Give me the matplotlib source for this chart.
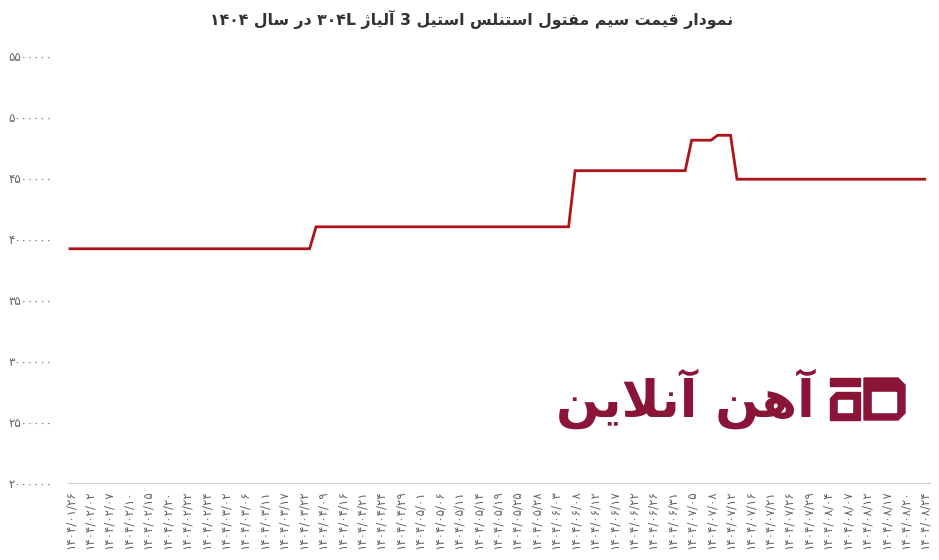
import matplotlib
matplotlib.use("Agg")
import matplotlib.pyplot as plt
from matplotlib.patches import Polygon
import numpy as np

# ---------------- data ----------------
date_labels = [
    "۱۴۰۴/۰۱/۲۶", "۱۴۰۴/۰۲/۰۲", "۱۴۰۴/۰۲/۰۷", "۱۴۰۴/۰۲/۱۰", "۱۴۰۴/۰۲/۱۵",
    "۱۴۰۴/۰۲/۲۰", "۱۴۰۴/۰۲/۲۲", "۱۴۰۴/۰۲/۲۴", "۱۴۰۴/۰۳/۰۲", "۱۴۰۴/۰۳/۰۶",
    "۱۴۰۴/۰۳/۱۱", "۱۴۰۴/۰۳/۱۷", "۱۴۰۴/۰۳/۲۲", "۱۴۰۴/۰۴/۰۹", "۱۴۰۴/۰۴/۱۶",
    "۱۴۰۴/۰۴/۲۱", "۱۴۰۴/۰۴/۲۴", "۱۴۰۴/۰۴/۲۹", "۱۴۰۴/۰۵/۰۱", "۱۴۰۴/۰۵/۰۶",
    "۱۴۰۴/۰۵/۱۱", "۱۴۰۴/۰۵/۱۴", "۱۴۰۴/۰۵/۱۹", "۱۴۰۴/۰۵/۲۵", "۱۴۰۴/۰۵/۲۸",
    "۱۴۰۴/۰۶/۰۳", "۱۴۰۴/۰۶/۰۸", "۱۴۰۴/۰۶/۱۲", "۱۴۰۴/۰۶/۱۷", "۱۴۰۴/۰۶/۲۲",
    "۱۴۰۴/۰۶/۲۶", "۱۴۰۴/۰۶/۳۱", "۱۴۰۴/۰۷/۰۵", "۱۴۰۴/۰۷/۰۸", "۱۴۰۴/۰۷/۱۲",
    "۱۴۰۴/۰۷/۱۶", "۱۴۰۴/۰۷/۲۱", "۱۴۰۴/۰۷/۲۶", "۱۴۰۴/۰۷/۲۹", "۱۴۰۴/۰۸/۰۴",
    "۱۴۰۴/۰۸/۰۷", "۱۴۰۴/۰۸/۱۲", "۱۴۰۴/۰۸/۱۷", "۱۴۰۴/۰۸/۲۰", "۱۴۰۴/۰۸/۲۴",
]
label_step = 3  # one label every 3 data points

prices = ([3920000] * 38 + [4100000] * 40 + [4560000] * 18 +
          [4810000] * 4 + [4850000] * 3 + [4490000] * 30)

y_ticks = [2000000, 2500000, 3000000, 3500000, 4000000, 4500000, 5000000, 5500000]

title_text = "نمودار قیمت سیم مفتول استنلس استیل 3 آلیاژ ۳۰۴L در سال ۱۴۰۴"
logo_text = "آهن آنلاین"

# ---------------- simple Arabic/Persian shaping ----------------
FORMS = {
    "ا": ("\uFE8D", "\uFE8E"), "آ": ("\uFE81", "\uFE82"),
    "د": ("\uFEA9", "\uFEAA"), "ر": ("\uFEAD", "\uFEAE"),
    "ژ": ("\uFB8A", "\uFB8B"), "و": ("\uFEED", "\uFEEE"),
    "ز": ("\uFEAF", "\uFEB0"),
    "ن": ("\uFEE5", "\uFEE6", "\uFEE7", "\uFEE8"),
    "م": ("\uFEE1", "\uFEE2", "\uFEE3", "\uFEE4"),
    "ق": ("\uFED5", "\uFED6", "\uFED7", "\uFED8"),
    "ت": ("\uFE95", "\uFE96", "\uFE97", "\uFE98"),
    "س": ("\uFEB1", "\uFEB2", "\uFEB3", "\uFEB4"),
    "ف": ("\uFED1", "\uFED2", "\uFED3", "\uFED4"),
    "ل": ("\uFEDD", "\uFEDE", "\uFEDF", "\uFEE0"),
    "ه": ("\uFEE9", "\uFEEA", "\uFEEB", "\uFEEC"),
    "ی": ("\uFEEF", "\uFEF0", "\uFEF3", "\uFEF4"),
}
LAM_ALEF = {"ا": ("\uFEFB", "\uFEFC"), "آ": ("\uFEF5", "\uFEF6")}


def shape_word(w):
    units = []
    i = 0
    while i < len(w):
        c = w[i]
        if c == "ل" and i + 1 < len(w) and w[i + 1] in LAM_ALEF:
            units.append(LAM_ALEF[w[i + 1]])
            i += 2
            continue
        units.append(FORMS.get(c, c))
        i += 1
    out = []
    for k, u in enumerate(units):
        if isinstance(u, str):
            out.append(u)
            continue
        prev = units[k - 1] if k > 0 else None
        nxt = units[k + 1] if k + 1 < len(units) else None
        cp = isinstance(prev, tuple) and len(prev) == 4
        cn = len(u) == 4 and isinstance(nxt, tuple)
        if len(u) == 2:
            out.append(u[1] if cp else u[0])
        else:
            if cp and cn:
                out.append(u[3])
            elif cp:
                out.append(u[1])
            elif cn:
                out.append(u[2])
            else:
                out.append(u[0])
    return "".join(out[::-1])


def visual(text):
    toks = []
    for t in text.split(" "):
        if any(ch in FORMS for ch in t):
            toks.append(shape_word(t))
        else:
            toks.append(t)
    return " ".join(toks[::-1])


FA_DIGITS = str.maketrans("0123456789", "۰۱۲۳۴۵۶۷۸۹")

# ---------------- figure ----------------
W, H = 939, 560
fig = plt.figure(figsize=(W / 100, H / 100), dpi=100)
ax = fig.add_axes([68 / W, 1 - 483 / H, (930 - 68) / W, (483 - 56) / H])

x = np.arange(len(prices))
ax.plot(x, prices, color="#ae1419", lw=2.0, solid_joinstyle="miter")

ax.set_xlim(-0.3, len(prices) - 1 + 0.8)
ax.set_ylim(2000000, 5500000)
ax.set_yticks(y_ticks)
ax.set_yticklabels([str(v).translate(FA_DIGITS) for v in y_ticks],
                   fontsize=8.6, color="#666666", family="DejaVu Sans")
tick_pos = x[::label_step]
ax.set_xticks(tick_pos)
ax.set_xticklabels(date_labels, rotation=90, fontsize=8.6, color="#666666",
                   family="DejaVu Sans")
ax.tick_params(axis="both", length=0)
ax.tick_params(axis="y", pad=11)
ax.tick_params(axis="x", pad=5)
for s in ["top", "right", "left"]:
    ax.spines[s].set_visible(False)
ax.spines["bottom"].set_color("#cccccc")
ax.spines["bottom"].set_linewidth(0.8)

fig.text(472 / W, 1 - 19 / H, visual(title_text), ha="center", va="center",
         fontsize=11.3, fontweight="bold", color="#333333", family="DejaVu Sans")

# ---------------- watermark logo ----------------
logo_col = "#8b1538"
fig.text(815 / W, 1 - 399 / H, visual(logo_text), ha="right", va="center",
         fontsize=37, fontweight="bold", color=logo_col, family="DejaVu Sans")


def px(pts):
    return [(a / W, 1 - b / H) for a, b in pts]


# "a" part of icon
fig.add_artist(Polygon(px([(830, 378), (860, 378), (860, 386), (830, 386)]),
                       closed=True, color=logo_col))
fig.add_artist(Polygon(px([(836, 392), (860, 392), (860, 420), (830, 420), (830, 398)]),
                       closed=True, color=logo_col))
fig.add_artist(Polygon(px([(838, 400), (852, 400), (852, 412), (838, 412)]),
                       closed=True, color="white"))
# "D" part of icon
fig.add_artist(Polygon(px([(864, 378), (898, 378), (905, 385), (905, 413), (898, 420), (864, 420)]),
                       closed=True, color=logo_col))
fig.add_artist(Polygon(px([(872, 392), (896, 392), (896, 412), (872, 412)]),
                       closed=True, color="white"))

fig.savefig("out.png", dpi=100)
